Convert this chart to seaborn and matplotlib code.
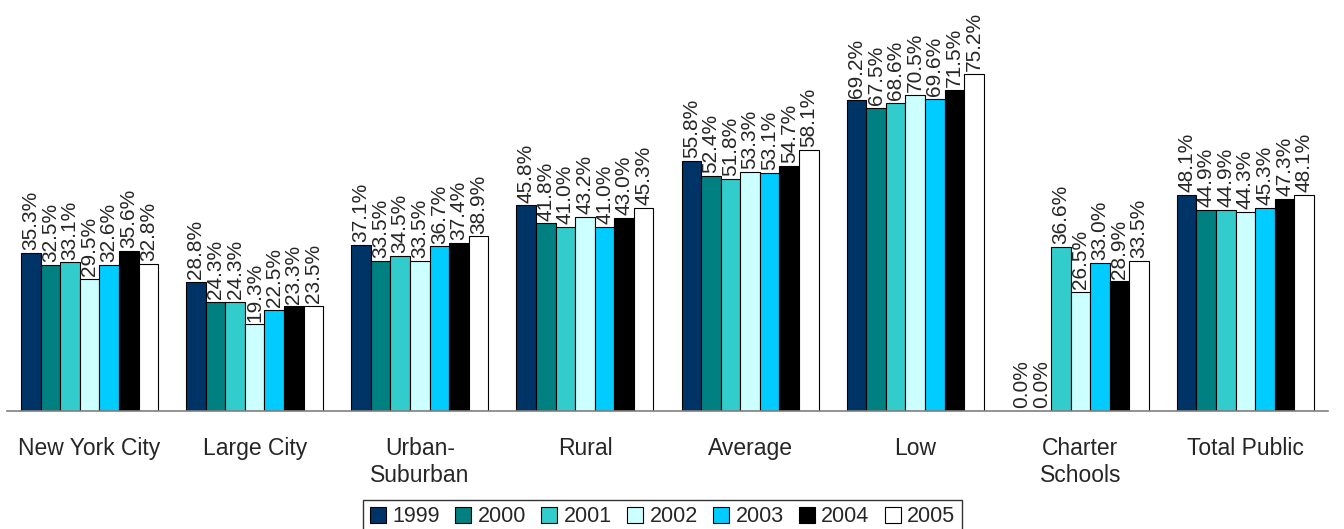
import pandas as pd
import numpy as np
import matplotlib.pyplot as plt
import seaborn as sns

sns.set_style("white")
plt.rcParams["font.family"] = ["Liberation Sans", "DejaVu Sans"]

categories = ["New York City", "Large City", "Urban-\nSuburban", "Rural",
              "Average", "Low", "Charter\nSchools", "Total Public"]
years = ["1999", "2000", "2001", "2002", "2003", "2004", "2005"]

y1999 = [35.3, 28.8, 37.1, 45.8, 55.8, 69.2, 0.0, 48.1]
y2000 = [32.5, 24.3, 33.5, 41.8, 52.4, 67.5, 0.0, 44.9]
y2001 = [33.1, 24.3, 34.5, 41.0, 51.8, 68.6, 36.6, 44.9]
y2002 = [29.5, 19.3, 33.5, 43.2, 53.3, 70.5, 26.5, 44.3]
y2003 = [32.6, 22.5, 36.7, 41.0, 53.1, 69.6, 33.0, 45.3]
y2004 = [35.6, 23.3, 37.4, 43.0, 54.7, 71.5, 28.9, 47.3]
y2005 = [32.8, 23.5, 38.9, 45.3, 58.1, 75.2, 33.5, 48.1]

colors = ["#003366", "#008080", "#33CCCC", "#CCFFFF", "#00CCFF", "#000000", "#FFFFFF"]

series = [y1999, y2000, y2001, y2002, y2003, y2004, y2005]
rows = []
for yr, vals in zip(years, series):
    for cat, v in zip(categories, vals):
        rows.append({"Category": cat, "Year": yr, "Value": v})
df = pd.DataFrame(rows)

fig = plt.figure(figsize=(13.44, 5.29), dpi=100)
ax = fig.add_axes([7 / 1344, 118 / 529, 1321 / 1344, 359 / 529])

sns.barplot(data=df, x="Category", y="Value", hue="Year", order=categories,
            hue_order=years, palette=colors, saturation=1, width=0.83,
            edgecolor="black", linewidth=0.8, ax=ax, legend=True)

for c in ax.containers:
    ax.bar_label(c, fmt="%.1f%%", rotation=90, padding=2, fontsize=15)

ax.set_ylim(0, 80)
ax.set_xlim(-0.5, len(categories) - 0.5)
ax.set_xlabel("")
ax.set_ylabel("")
ax.set_yticks([])
for s in ["top", "right", "left"]:
    ax.spines[s].set_visible(False)
ax.spines["bottom"].set_color("#808080")
ax.spines["bottom"].set_linewidth(1.2)

ax.set_xticks(np.arange(-0.5, len(categories)), minor=True)
ax.tick_params(axis="x", which="minor", length=10, color="#808080", width=1.2)
ax.tick_params(axis="x", which="major", length=0, pad=19, labelsize=16.5)
ax.set_xticklabels(categories, va="top", linespacing=1.2)

handles, labels = ax.get_legend_handles_labels()
ax.get_legend().remove()
leg = fig.legend(handles, labels, loc="upper center", bbox_to_anchor=(0.493, 1 - 500 / 529),
                 ncol=7, fontsize=15.5, frameon=True, fancybox=False,
                 handlelength=0.75, handleheight=0.75, handletextpad=0.3,
                 columnspacing=0.7, borderpad=0.3, borderaxespad=0)
leg.get_frame().set_edgecolor("black")
leg.get_frame().set_linewidth(1)

fig.savefig("out.png", dpi=100)
